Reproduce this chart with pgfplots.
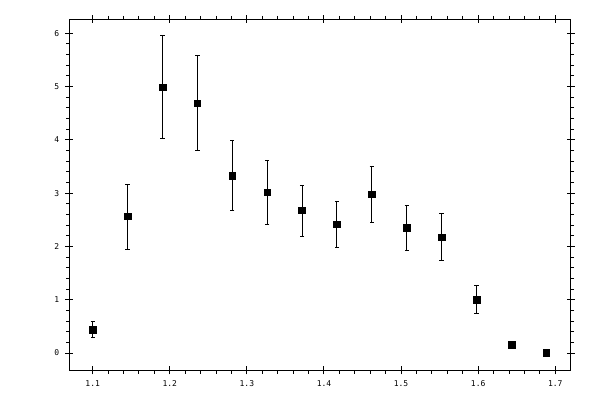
\documentclass[border=0pt]{standalone}
\usepackage{pgfplots}
\pgfplotsset{compat=1.18}
\usetikzlibrary{calc}
\usepackage{fontspec}
\setmainfont{DejaVu Sans Mono}

\pgfplotstableread{
x      y      ep     em
1.1000 0.440  0.155  0.140
1.1453 2.565  0.600  0.620
1.1905 4.985  0.975  0.970
1.2358 4.685  0.900  0.885
1.2811 3.330  0.660  0.650
1.3263 3.015  0.600  0.595
1.3716 2.680  0.465  0.490
1.4168 2.415  0.430  0.435
1.4621 2.975  0.525  0.520
1.5074 2.355  0.415  0.430
1.5526 2.170  0.450  0.430
1.5979 1.000  0.270  0.255
1.6432 0.150  0.030  0.030
1.6884 0.010  0.005  0.005
}\datatable

\pgfplotsset{base/.style={
  scale only axis, width=376pt, height=263.25pt,
  xmin=1.0697, xmax=1.72, ymin=-0.325, ymax=6.26,
  xtick={1.1,1.2,...,1.7}, ytick={0,1,...,6},
  axis line style={line width=0.75pt},
  every tick/.style={black, line width=0.75pt},
  tick label style={font=\fontsize{6}{7}\selectfont},
  /pgf/number format/assume math mode=true,
  x tick label style={/pgf/number format/fixed, /pgf/number format/fixed zerofill, /pgf/number format/precision=1},
  clip=false,
}}

\begin{document}
\begin{tikzpicture}
% minor ticks, outside
\begin{axis}[base,
  minor x tick num=4, minor y tick num=4,
  tick align=outside, major tick length=0pt, minor tick length=2.5pt,
  xticklabels={}, yticklabels={},
  ]
\end{axis}
% major ticks across the frame, labels and data
\begin{axis}[base,
  tick align=center, major tick length=6.2pt,
  xticklabel style={yshift=-1pt}, yticklabel style={xshift=-1pt},
  ]
\addplot[black, only marks, mark=square*, mark size=2.5pt,
  error bars/.cd, y dir=both, y explicit,
  error bar style={line width=0.75pt},
  error mark options={rotate=90, mark size=1.6pt, line width=0.75pt}]
  table[x=x, y=y, y error plus=ep, y error minus=em] {\datatable};
\end{axis}
\path ($(current axis.south west)+(-52pt,-22.3pt)$) rectangle ($(current axis.north east)+(22pt,14.5pt)$);
\end{tikzpicture}
\end{document}
